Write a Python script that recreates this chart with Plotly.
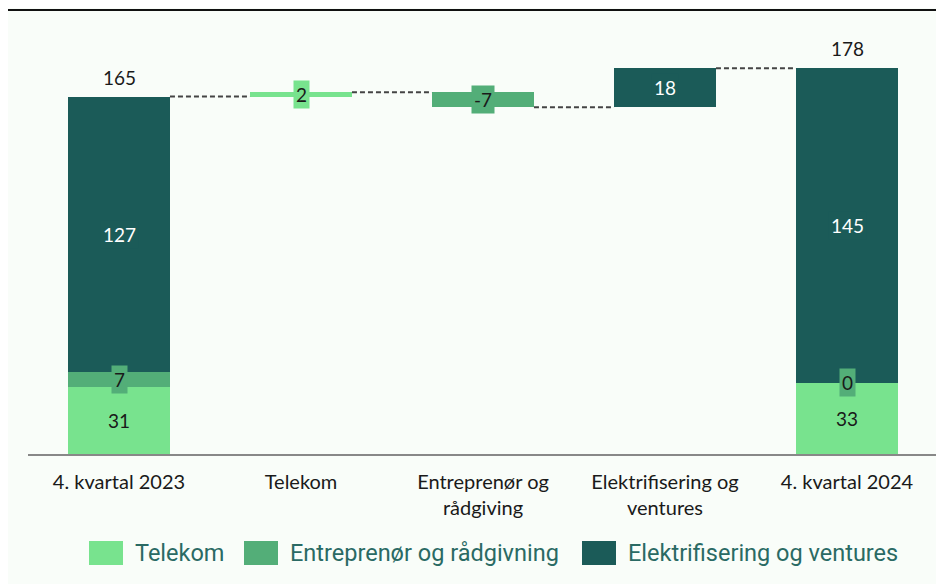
import plotly.graph_objects as go

# data
categories = ['4. kvartal 2023', 'Telekom', 'Entreprenør og<br>rådgiving',
              'Elektrifisering og<br>ventures', '4. kvartal 2024']
series_names = ['Telekom', 'Entreprenør og rådgivning', 'Elektrifisering og ventures']
telekom = [31, 2, None, None, 33]
entreprenor = [7, None, -7, None, 0]
elektrifisering = [127, None, None, 18, 145]
is_total = [True, False, False, False, True]

colors = ['#78e38e', '#53ae78', '#1b5b58']
label_colors = ['#1a1a1a', '#1a1a1a', '#ffffff']
bg = '#f9fdf9'
bar_w = 0.56

series = [telekom, entreprenor, elektrifisering]
x = list(range(len(categories)))

# bases for each segment (stacked for totals, floating for changes)
bases = [[None] * len(x) for _ in series]
totals = []
running = 0
for i in x:
    if is_total[i]:
        acc = 0
        for s, vals in enumerate(series):
            if vals[i] is not None:
                bases[s][i] = acc
                acc += vals[i]
        running = acc
    else:
        for s, vals in enumerate(series):
            if vals[i] is not None:
                bases[s][i] = running
                running += vals[i]
    totals.append(running)

fig = go.Figure()
for s, vals in enumerate(series):
    fig.add_trace(go.Bar(x=x, y=vals, base=bases[s], width=bar_w,
                         marker=dict(color=colors[s], line=dict(width=0)),
                         name=series_names[s], showlegend=False, hoverinfo='skip'))

# dashed connectors
for i in range(len(x) - 1):
    fig.add_trace(go.Scatter(x=[i + bar_w / 2, i + 1 - bar_w / 2], y=[totals[i], totals[i]],
                             mode='lines', line=dict(color='#444444', width=2, dash='5px,3px'),
                             showlegend=False, hoverinfo='skip'))

annotations = []
# segment labels
for s, vals in enumerate(series):
    for i in x:
        v = vals[i]
        if v is None:
            continue
        annotations.append(dict(x=i, y=bases[s][i] + v / 2, text=str(v), showarrow=False,
                                font=dict(family='Lato', size=19, color=label_colors[s]),
                                bgcolor=colors[s], borderpad=2))
# total labels
for i in x:
    if is_total[i]:
        annotations.append(dict(x=i, y=totals[i], text=str(totals[i]), showarrow=False,
                                yanchor='bottom', yshift=6,
                                font=dict(family='Lato', size=19, color='#1a1a1a')))

# custom legend (positions in page pixels, plot area left=28, bottom=454)
leg_x = [89, 244, 582]
shapes = [dict(type='line', xref='paper', yref='paper', x0=-0.04, x1=1.02,
               y0=1 + 20 / 424, y1=1 + 20 / 424, line=dict(color='#111111', width=2))]
for s, name in enumerate(series_names):
    px = leg_x[s]
    shapes.append(dict(type='rect', xref='paper', yref='paper',
                       x0=(px - 28) / 910, x1=(px + 34 - 28) / 910,
                       y0=(454 - 565) / 424, y1=(454 - 541) / 424,
                       fillcolor=colors[s], line=dict(width=0)))
    annotations.append(dict(xref='paper', yref='paper', x=(px + 44 - 28) / 910, y=(454 - 553) / 424,
                            xanchor='left', yanchor='middle', text=name, showarrow=False,
                            font=dict(family='Roboto', size=23.5, color='#2a6a64')))

fig.update_layout(
    width=944, height=584,
    margin=dict(l=20, r=14, t=22, b=138),
    paper_bgcolor=bg, plot_bgcolor=bg,
    barmode='overlay', bargap=0,
    annotations=annotations, shapes=shapes,
    xaxis=dict(range=[-0.5, 4.5], tickvals=x, ticktext=categories, showgrid=False,
               zeroline=False, showline=True, linecolor='#888888', linewidth=2,
               ticks='', ticklabelstandoff=9,
               tickfont=dict(family='Lato', size=20, color='#1a1a1a')),
    yaxis=dict(range=[0, 195.7], visible=False, showgrid=False, zeroline=False),
)

fig.write_html("out.html")
